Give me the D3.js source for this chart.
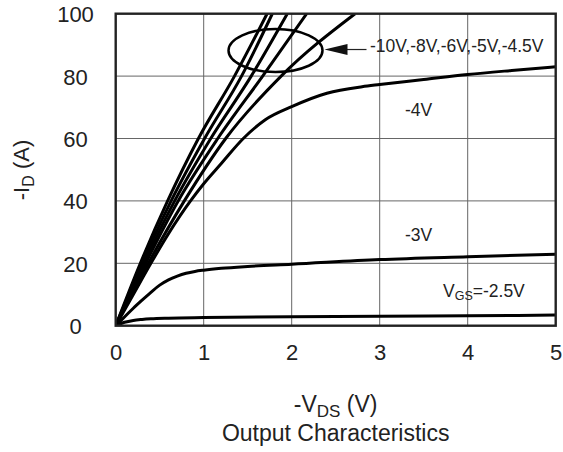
<!DOCTYPE html>
<html>
<head>
<meta charset="utf-8">
<script src="https://cdn.jsdelivr.net/npm/d3@7/dist/d3.min.js"></script>
<style>
  body { margin: 0; background: #fff; }
  text { font-family: "Liberation Sans", Arial, sans-serif; fill: #222; }
</style>
</head>
<body>
<svg id="chart" width="563" height="452"></svg>
<script>
// ---- data ----
const xTicks = [0, 1, 2, 3, 4, 5];
const yTicks = [0, 20, 40, 60, 80, 100];

// -VDS (V) and -ID (A)
const vgs10_x  = [0, 0.28, 0.59, 0.94, 1.35, 1.72];
const vgs10_y  = [0, 20, 40, 60, 80, 100];
const vgs8_x   = [0, 0.30, 0.63, 1.01, 1.43, 1.78];
const vgs8_y   = [0, 20, 40, 60, 80, 100];
const vgs6_x   = [0, 0.32, 0.67, 1.08, 1.54, 1.95];
const vgs6_y   = [0, 20, 40, 60, 80, 100];
const vgs5_x   = [0, 0.34, 0.71, 1.16, 1.67, 2.17];
const vgs5_y   = [0, 20, 40, 60, 80, 100];
const vgs45_x  = [0, 0.37, 0.78, 1.25, 1.88, 2.72];
const vgs45_y  = [0, 20, 40, 60, 80, 100];
const vgs4_x   = [0, 0.2, 0.4, 0.6, 0.85, 1.0, 1.2, 1.45, 1.7, 2.0, 2.4, 2.8, 3.0, 3.5, 4.0, 4.5, 5.0];
const vgs4_y   = [0, 10, 20, 29.5, 40, 45.5, 52, 60, 66, 70.2, 74.5, 76.6, 77.3, 78.9, 80.5, 81.8, 83];
const vgs3_x   = [0, 0.1, 0.2, 0.3, 0.4, 0.5, 0.6, 0.7, 0.8, 0.9, 1.0, 1.2, 1.5, 2.0, 3.0, 4.0, 5.0];
const vgs3_y   = [0, 2.8, 5.6, 8.2, 10.7, 13.0, 14.7, 15.9, 16.8, 17.4, 17.8, 18.4, 19.0, 19.7, 21.2, 22.1, 22.9];
const vgs25_x  = [0, 0.1, 0.2, 0.3, 0.4, 0.6, 1.0, 2.0, 3.0, 4.0, 5.0];
const vgs25_y  = [0, 1.1, 1.7, 2.0, 2.2, 2.4, 2.6, 2.9, 3.05, 3.2, 3.4];

const seriesNames = ["-10V", "-8V", "-6V", "-5V", "-4.5V", "-4V", "-3V", "-2.5V"];
const seriesX = [vgs10_x, vgs8_x, vgs6_x, vgs5_x, vgs45_x, vgs4_x, vgs3_x, vgs25_x];
const seriesY = [vgs10_y, vgs8_y, vgs6_y, vgs5_y, vgs45_y, vgs4_y, vgs3_y, vgs25_y];

// annotation ellipse (data units): center V, center A, radius V, radius A
const ellipseData = [1.816, 88.2, 0.534, 6.9];

// ---- layout ----
const W = 563, H = 452;
const margin = { left: 115.7, right: 7.3, top: 13.7, bottom: 126.3 };
const svg = d3.select("#chart");

const x = d3.scaleLinear().domain([0, 5]).range([margin.left, W - margin.right]);
const y = d3.scaleLinear().domain([0, 100]).range([H - margin.bottom, margin.top]);

// grid
const grid = svg.append("g");
grid.selectAll("line.vx").data(xTicks.slice(1, -1)).join("line")
  .attr("x1", d => x(d)).attr("x2", d => x(d))
  .attr("y1", y(0)).attr("y2", y(100))
  .attr("stroke", "#666").attr("stroke-width", 1);
grid.selectAll("line.hy").data(yTicks.slice(1, -1)).join("line")
  .attr("x1", x(0)).attr("x2", x(5))
  .attr("y1", d => y(d)).attr("y2", d => y(d))
  .attr("stroke", "#666").attr("stroke-width", 1);

// clip
svg.append("clipPath").attr("id", "plotclip").append("rect")
  .attr("x", x(0)).attr("y", y(100))
  .attr("width", x(5) - x(0)).attr("height", y(0) - y(100));

// curves
const line = d3.line().x(d => x(d[0])).y(d => y(d[1])).curve(d3.curveMonotoneX);
const curves = svg.append("g").attr("clip-path", "url(#plotclip)");
seriesNames.forEach((name, i) => {
  const pts = seriesX[i].map((v, j) => [v, seriesY[i][j]]);
  curves.append("path").datum(pts)
    .attr("d", line)
    .attr("fill", "none")
    .attr("stroke", "#000")
    .attr("stroke-width", 3)
    .attr("stroke-linejoin", "round");
});

// frame
svg.append("rect")
  .attr("x", x(0)).attr("y", y(100))
  .attr("width", x(5) - x(0)).attr("height", y(0) - y(100))
  .attr("fill", "none").attr("stroke", "#222").attr("stroke-width", 2.4);

// axes tick labels via d3 axes (no lines)
const xAxis = svg.append("g").attr("transform", `translate(0,${y(0)})`)
  .call(d3.axisBottom(x).tickValues(xTicks).tickSize(0).tickPadding(19).tickFormat(d3.format("d")));
const yAxis = svg.append("g").attr("transform", `translate(${x(0)},0)`)
  .call(d3.axisLeft(y).tickValues(yTicks).tickSize(0).tickPadding(40).tickFormat(d3.format("d")));
[xAxis, yAxis].forEach(a => {
  a.select(".domain").remove();
  a.selectAll("text").attr("font-family", "Liberation Sans, Arial, sans-serif")
    .attr("font-size", 22).attr("fill", "#222");
});
yAxis.selectAll("text").attr("text-anchor", "middle").attr("x", 75.5 - x(0)).attr("dy", "0.36em");
xAxis.selectAll("text").attr("dy", "0.71em");

// axis titles
const yt = svg.append("text")
  .attr("transform", `translate(29,170) rotate(-90)`)
  .attr("text-anchor", "middle").attr("font-size", 22);
yt.append("tspan").text("-I");
yt.append("tspan").text("D").attr("font-size", 16).attr("dy", 5);
yt.append("tspan").text(" (A)").attr("dy", -5);

const xt = svg.append("text")
  .attr("x", (x(0) + x(5)) / 2).attr("y", 412)
  .attr("text-anchor", "middle").attr("font-size", 23);
xt.append("tspan").text("-V");
xt.append("tspan").text("DS").attr("font-size", 17).attr("dy", 5);
xt.append("tspan").text(" (V)").attr("dy", -5);

svg.append("text")
  .attr("x", (x(0) + x(5)) / 2).attr("y", 441)
  .attr("text-anchor", "middle").attr("font-size", 23)
  .text("Output Characteristics");

// ellipse annotation
svg.append("ellipse")
  .attr("cx", x(ellipseData[0])).attr("cy", y(ellipseData[1]))
  .attr("rx", x(ellipseData[2]) - x(0)).attr("ry", y(0) - y(ellipseData[3]))
  .attr("fill", "none").attr("stroke", "#000").attr("stroke-width", 2.5);

// arrow
const tipX = x(ellipseData[0]) + (x(ellipseData[2]) - x(0)) + 2;
const tipY = y(ellipseData[1]) - 1;
svg.append("line")
  .attr("x1", tipX + 20).attr("x2", tipX + 42)
  .attr("y1", tipY).attr("y2", tipY)
  .attr("stroke", "#222").attr("stroke-width", 1.2);
svg.append("path")
  .attr("d", `M${tipX},${tipY} L${tipX + 23},${tipY - 5.5} L${tipX + 23},${tipY + 5.5} Z`)
  .attr("fill", "#111");

// labels
const annFont = 17.5;
svg.append("text").attr("x", 370).attr("y", 52).attr("font-size", annFont)
  .text(seriesNames.slice(0, 5).join(","));
svg.append("text").attr("x", 405).attr("y", 116).attr("font-size", annFont).text(seriesNames[5]);
svg.append("text").attr("x", 405).attr("y", 241).attr("font-size", annFont).text(seriesNames[6]);
const vg = svg.append("text").attr("x", 443).attr("y", 297).attr("font-size", annFont);
vg.append("tspan").text("V");
vg.append("tspan").text("GS").attr("font-size", 12.5).attr("dy", 3);
vg.append("tspan").text("=" + seriesNames[7]).attr("dy", -3);
</script>
</body>
</html>
